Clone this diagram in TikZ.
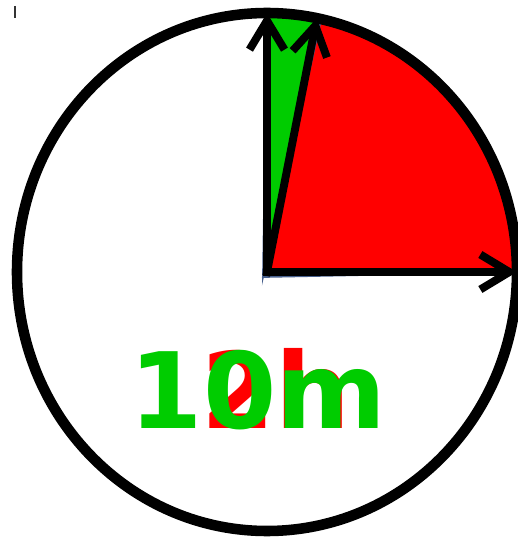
\documentclass[tikz,border=0pt]{standalone}
\usepackage{fontspec}
\setmainfont{DejaVu Sans}
\usetikzlibrary{arrows.meta}

\definecolor{slicegreen}{RGB}{0,204,0}
\definecolor{slicered}{RGB}{255,0,0}
\definecolor{rim}{RGB}{70,95,140}

\begin{document}
\begin{tikzpicture}[x=0.02cm, y=0.02cm,
		hand/.style={line width=4.5pt, line cap=rect, -{Straight Barb[length=0.58cm, width=0.7cm]}},
		slice/.style={draw=rim, line width=1pt},
		clocktext/.style={font=\fontsize{60}{60}\selectfont\bfseries, anchor=base, inner sep=0pt}]

		\useasboundingbox (0,0) rectangle (518,542);

		\coordinate (o) at (267,270);
		\coordinate (w) at (263,265);
		\path (o) ++(90:250 and 259) coordinate (n);
		\path (o) ++(77.5:250 and 259) coordinate (s);
		\path (o) ++(78.5:250 and 259) coordinate (m);
		\path (o) ++(0:250 and 259) coordinate (e);

		\filldraw[slice, fill=slicegreen] (w) -- (n) arc[start angle=90, end angle=77.5, x radius=250, y radius=259] -- cycle;
		\filldraw[slice, fill=slicered] (w) -- (s) arc[start angle=77.5, end angle=0, x radius=250, y radius=259] -- cycle;

		\draw[line width=6pt] (o) ellipse[x radius=250, y radius=259];

		\draw[hand] (o) -- (n);
		\draw[hand] (o) -- (m);
		\draw[hand] (o) -- (e);

		\node[clocktext, text=slicered] (hours) at (276,113) {2h};
		\node[clocktext, text=slicegreen] (minutes) at (258,113) {10m};

		\draw[line width=0.8pt, black!80] (15,536) -- (15,524);
\end{tikzpicture}
\end{document}
